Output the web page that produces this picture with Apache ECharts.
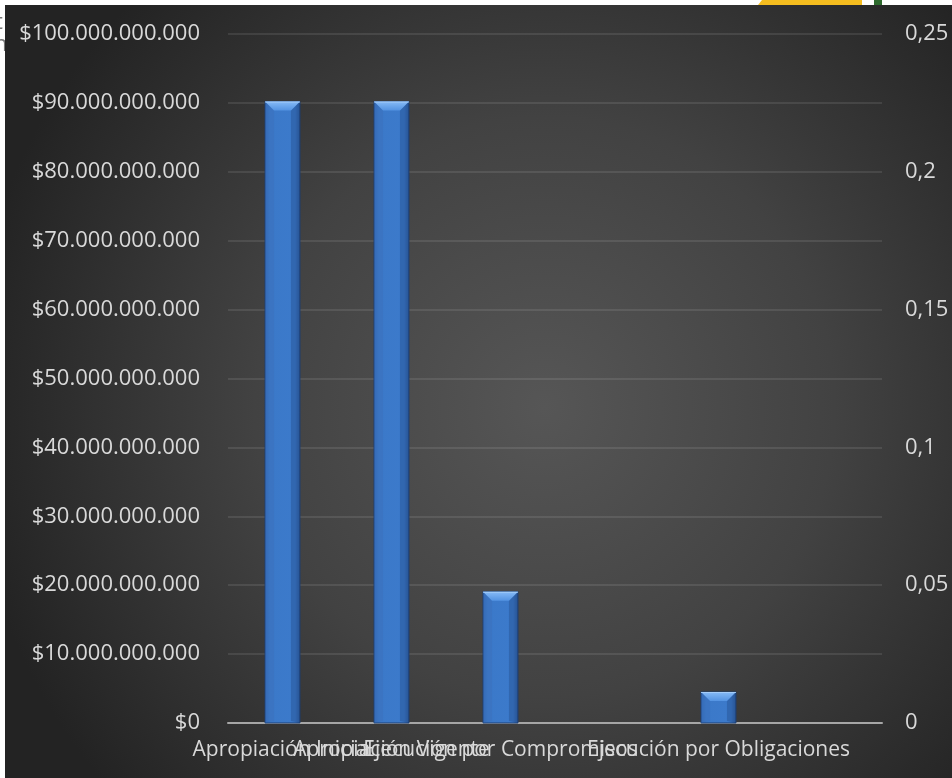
<!DOCTYPE html>
<html>
<head>
<meta charset="utf-8">
<script src="https://cdn.jsdelivr.net/npm/echarts@6/dist/echarts.min.js"></script>
<style>
html,body{margin:0;padding:0;background:#fff;}
#c{width:952px;height:778px;}
</style>
</head>
<body>
<div id="c"></div>
<script>
var categories = ['Apropiación Inicial', 'Apropiación Vigente', 'Ejecución por Compromisos', '', 'Ejecución por Obligaciones', ''];
var montos = [90200000000, 90200000000, 19050000000, null, 4500000000, null];
var leftTicks = { min: 0, max: 100000000000, interval: 10000000000 };
var rightTicks = { min: 0, max: 0.25, interval: 0.05 };

function fmtMoney(v) {
  var s = Math.round(v).toString();
  return '$' + s.replace(/\B(?=(\d{3})+(?!\d))/g, '.');
}
function fmtRight(v) {
  return parseFloat(v.toFixed(2)).toString().replace('.', ',');
}

var chart = echarts.init(document.getElementById('c'));
var FONT = 'Open Sans';

function renderBar(params, api) {
  var v = api.value(1);
  if (v == null || isNaN(v)) return;
  var top = api.coord([api.value(0), v]);
  var base = api.coord([api.value(0), 0]);
  var band = api.size([1, 0])[0];
  var w = band * 0.32;
  var x0 = top[0] - w / 2, x1 = top[0] + w / 2;
  var y0 = top[1], y1 = base[1];
  var b = 9;
  var h = y1 - y0;
  var bb = Math.min(b, h / 2);
  return {
    type: 'group',
    children: [
      { type: 'rect', shape: { x: x0, y: y0, width: w, height: h },
        style: { fill: new echarts.graphic.LinearGradient(0, 0, 1, 0, [
          { offset: 0, color: '#3168b5' }, { offset: 0.15, color: '#3b79c9' },
          { offset: 0.85, color: '#3c7acb' }, { offset: 1, color: '#2c5c9f' }]),
          stroke: '#1d3f73', lineWidth: 1 } },
      { type: 'polygon', shape: { points: [[x0, y0], [x0 + bb, y0 + bb], [x0 + bb, y1 - 2], [x0, y1]] },
        style: { fill: 'rgba(60,110,180,0.35)' } },
      { type: 'polygon', shape: { points: [[x1, y0], [x1 - bb, y0 + bb], [x1 - bb, y1 - 2], [x1, y1]] },
        style: { fill: 'rgba(25,60,115,0.3)' } },
      { type: 'polygon', shape: { points: [[x0, y0], [x1, y0], [x1 - bb, y0 + bb], [x0 + bb, y0 + bb]] },
        style: { fill: new echarts.graphic.LinearGradient(0, 0, 0, 1, [
          { offset: 0, color: '#86baf6' }, { offset: 1, color: '#5393e2' }]) } },
      { type: 'line', shape: { x1: x0, y1: y0 + 0.5, x2: x1, y2: y0 + 0.5 },
        style: { stroke: '#a4cdf9', lineWidth: 1 } }
    ]
  };
}

chart.setOption({
  backgroundColor: '#ffffff',
  animation: false,
  graphic: [
    { type: 'text', left: -5, top: 12, z: -3, style: { text: 't', font: '22px "Open Sans"', fill: '#777' } },
    { type: 'text', left: -6, top: 34, z: -3, style: { text: 'n', font: '22px "Open Sans"', fill: '#777' } },
    { type: 'polygon', z: -3, shape: { points: [[762, 0], [862, 0], [862, 5], [758, 5]] }, style: { fill: '#f5bd1f' } },
    { type: 'rect', z: -3, shape: { x: 874, y: 0, width: 8, height: 5 }, style: { fill: '#2e6a2e' } },
    { type: 'rect', z: -2, shape: { x: 5, y: 5, width: 947, height: 773 },
      style: { fill: new echarts.graphic.RadialGradient(0.57, 0.52, 0.75, [
        { offset: 0, color: '#565656' }, { offset: 0.5, color: '#424242' }, { offset: 1, color: '#232323' }]) } }
  ],
  grid: { left: 228, right: 70, top: 34, bottom: 55, containLabel: false },
  xAxis: {
    type: 'category',
    data: categories,
    axisLine: { show: true, lineStyle: { color: '#a6a6a6', width: 2 } },
    axisTick: { show: false },
    axisLabel: { interval: 0, hideOverlap: false, color: '#d9d9d9', fontFamily: FONT, fontSize: 21, margin: 17 },
    splitLine: { show: false }
  },
  yAxis: [
    {
      type: 'value', min: leftTicks.min, max: leftTicks.max, interval: leftTicks.interval,
      axisLine: { show: false }, axisTick: { show: false },
      axisLabel: { formatter: fmtMoney, color: '#d9d9d9', fontFamily: FONT, fontSize: 22, margin: 28 },
      splitLine: { lineStyle: { color: 'rgba(255,255,255,0.13)', width: 1.5 } }
    },
    {
      type: 'value', min: rightTicks.min, max: rightTicks.max, interval: rightTicks.interval,
      position: 'right',
      axisLine: { show: false }, axisTick: { show: false },
      axisLabel: { formatter: fmtRight, color: '#d9d9d9', fontFamily: FONT, fontSize: 22, margin: 23 },
      splitLine: { show: false }
    }
  ],
  series: [
    {
      type: 'custom',
      renderItem: renderBar,
      encode: { x: 0, y: 1 },
      data: categories.map(function (c, i) { return [i, montos[i]]; }),
      z: 3
    }
  ]
});
</script>
</body>
</html>
